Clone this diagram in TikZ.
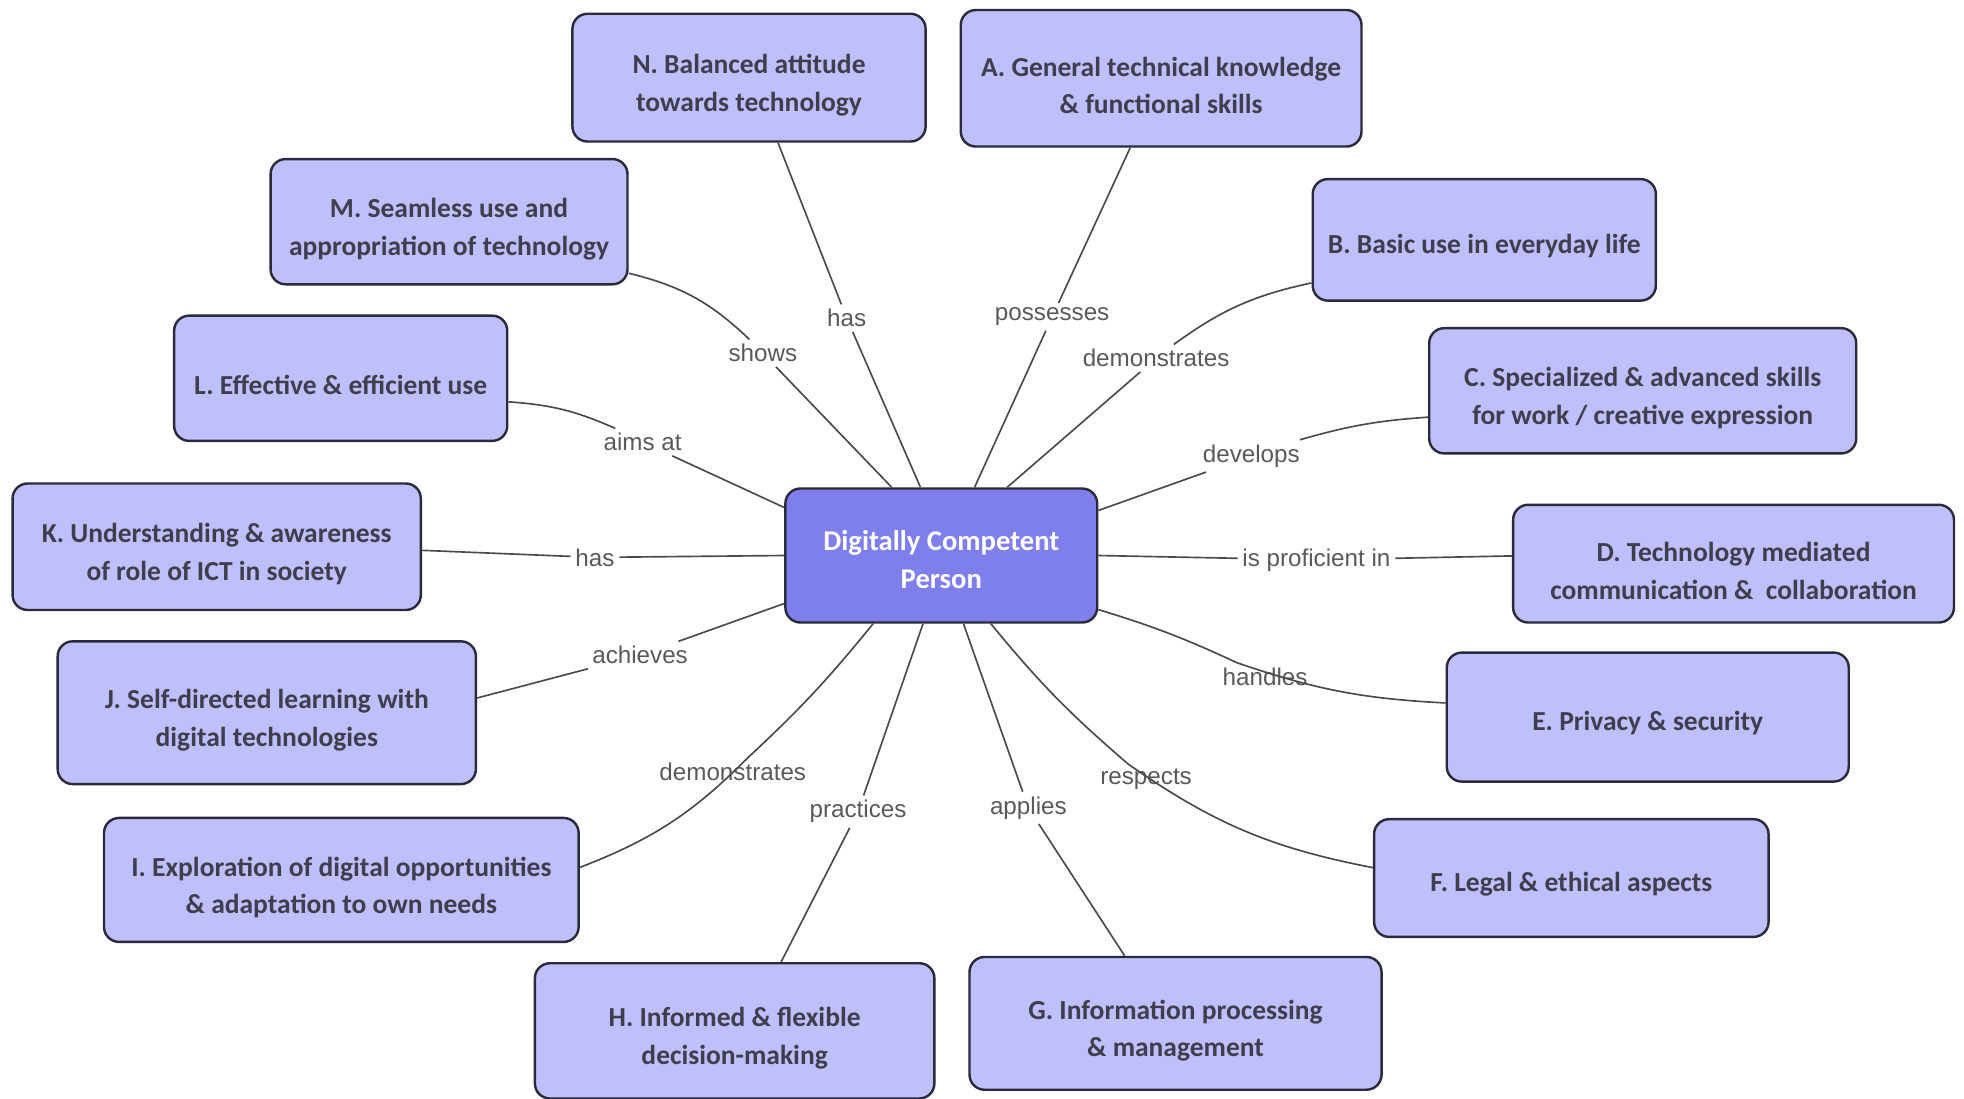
\documentclass[tikz,border=0pt]{standalone}
\usepackage{fontspec}
\setmainfont{Carlito}
\newfontfamily\lblfont{Liberation Sans}
\usetikzlibrary{positioning}
\definecolor{boxfill}{HTML}{BFBFFB}
\definecolor{hubfill}{HTML}{7F7FEC}
\definecolor{boxtext}{HTML}{3E3E4E}
\definecolor{boxline}{HTML}{2A2A3A}
\definecolor{linkcol}{HTML}{4A4A4A}

\begin{document}
\begin{tikzpicture}[x=0.02cm, y=-0.02cm,
    box/.style={draw=boxline, line width=1.1pt, fill=boxfill, rounded corners=0.24cm,
        align=center, text=boxtext, font=\fontsize{12.5}{17}\selectfont\bfseries,
        execute at begin node={\rule{0pt}{#1}}},
    box/.default=32.5pt,
    hub/.style={box=30.5pt, fill=hubfill, text=white, font=\fontsize{13}{17.5}\selectfont\bfseries},
    lbl/.style={inner sep=2pt, text=black!65, font=\lblfont\fontsize{11}{13}\selectfont},
    link/.style={draw=linkcol, line width=0.75pt}]
    \useasboundingbox (0,0) rectangle (1568,877.4);

    % central concept
    \node[hub, minimum width=4.98cm, minimum height=2.14cm] (ctr) at (751.5,443.5) {Digitally Competent\\Person};

    % outer boxes
    \node[box, minimum width=6.40cm, minimum height=2.18cm] (a) at (927,62.5) {A. General technical knowledge\\\& functional skills};
    \node[box=14.5pt, minimum width=5.48cm, minimum height=1.94cm] (b) at (1185,191.5) {B. Basic use in everyday life};
    \node[box, minimum width=6.82cm, minimum height=2.00cm] (c) at (1311.5,312) {C. Specialized \& advanced skills\\for work / creative expression};
    \node[box, minimum width=7.04cm, minimum height=1.88cm] (d) at (1384,450) {D. Technology mediated\\communication \&\ \ collaboration};
    \node[box=14.5pt, minimum width=6.42cm, minimum height=2.06cm] (e) at (1315.5,572.5) {E. Privacy \& security};
    \node[box=14.5pt, minimum width=6.30cm, minimum height=1.88cm] (f) at (1254.5,701) {F. Legal \& ethical aspects};
    \node[box, minimum width=6.58cm, minimum height=2.12cm] (g) at (938.5,817) {G. Information processing\\\& management};
    \node[box, minimum width=6.38cm, minimum height=2.16cm] (h) at (586.5,823) {H. Informed \& flexible\\decision-making};
    \node[box, minimum width=7.58cm, minimum height=1.98cm] (i) at (272.5,702.5) {I. Exploration of digital opportunities\\\& adaptation to own needs};
    \node[box, minimum width=6.68cm, minimum height=2.28cm] (j) at (213,569) {J. Self-directed learning with\\digital technologies};
    \node[box, minimum width=6.52cm, minimum height=2.02cm] (k) at (173,436.5) {K. Understanding \& awareness\\of role of ICT in society};
    \node[box=14.5pt, minimum width=5.32cm, minimum height=2.00cm] (l) at (272,302) {L. Effective \& efficient use};
    \node[box, minimum width=5.70cm, minimum height=2.00cm] (m) at (358.5,177) {M. Seamless use and\\appropriation of technology};
    \node[box, minimum width=5.64cm, minimum height=2.04cm] (n) at (598,62) {N. Balanced attitude\\towards technology};

    % relation labels
    \node[lbl] (la) at (840,253) {possesses};
    \node[lbl] (lb) at (923,286) {demonstrates};
    \node[lbl] (lc) at (999,364) {develops};
    \node[lbl] (ld) at (1051,447) {is proficient in};
    \node[lbl] (le) at (1010,540) {handles};
    \node[lbl] (lf) at (915,622) {respects};
    \node[lbl] (lg) at (821,645) {applies};
    \node[lbl] (lh) at (685,648) {practices};
    \node[lbl] (li) at (585,616) {demonstrates};
    \node[lbl] (lj) at (511,523) {achieves};
    \node[lbl] (lk) at (475,445) {has};
    \node[lbl] (ll) at (513,353) {aims at};
    \node[lbl] (lm) at (609,282) {shows};
    \node[lbl] (ln) at (676,254) {has};

    % connectors
    \path[link]
    (ctr.64.5) -- (la) -- (a.-114.6)
    (ctr.46.6) -- (lb) to[bend left=12] (b.194.5)
    (ctr.16.8) -- (lc) to[bend left=6] (c.187.4)
    (ctr.0) -- (ld) -- (d.178.7)
    (ctr.-19.9) to[bend left=4] (le) to[bend right=8] (e.176.3)
    (ctr.-54.3) to[bend right=5] (lf) to[bend right=12] (f.177.5)
    (ctr.-72.9) -- (lg) -- (g.127.4)
    (ctr.-105.2) -- (lh) -- (h.56)
    (ctr.-135.5) to[bend left=4] (li) to[bend left=12] (i.3.8)
    (ctr.197.1) -- (lj) -- (j.4.1)
    (ctr.180) -- (lk) -- (k.-1.6)
    (ctr.163.5) -- (ll) to[bend right=10] (l.-8.6)
    (ctr.126.4) -- (lm) to[bend right=15] (m.-16.8)
    (ctr.107.1) -- (ln) -- (n.-66.7);
\end{tikzpicture}
\end{document}
